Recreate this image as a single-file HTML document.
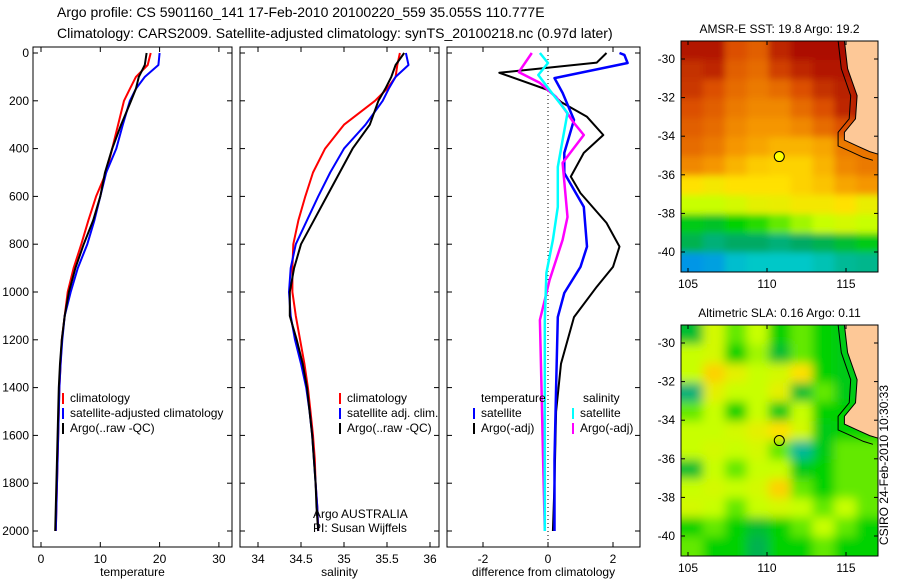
<!DOCTYPE html>
<html><head><meta charset="utf-8">
<style>
html,body{margin:0;padding:0;background:#fff;}
svg{display:block;font-family:"Liberation Sans",sans-serif;}
</style></head>
<body>
<svg id="fig" width="900" height="580" viewBox="0 0 900 580">
<text x="57" y="17" font-size="14">Argo profile: CS 5901160_141 17-Feb-2010 20100220_559 35.055S 110.777E</text>
<text x="57" y="38" font-size="14">Climatology: CARS2009. Satellite-adjusted climatology: synTS_20100218.nc (0.97d later)</text>
<text x="888" y="465" font-size="12" transform="rotate(-90 888 465)" text-anchor="middle">CSIRO 24-Feb-2010 10:30:33</text>
<g id="g"></g>
</svg>
<script>
// ---- data ----
const depthsT = [0,50,100,150,200,300,400,500,600,700,800,900,1000,1100,1200,1300,1400,1500,1600,1700,1800,1900,2000];
const tempClim = [18.5,18,16,15,14,13,12,11,9.3,8,6.8,5.5,4.5,4,3.5,3.3,3.1,3,2.9,2.8,2.7,2.6,2.5];
const tempSat  = [20,19.8,17.5,16,15,13.8,12.7,11,10,9,7.8,6.2,5,4,3.6,3.3,3.1,3,2.9,2.8,2.7,2.6,2.5];
const tempArgo = [17.8,17.5,16.5,16,15.2,13.5,12,10.8,10,8.8,7.2,5.8,4.7,4,3.5,3.2,3,2.9,2.8,2.7,2.6,2.5,2.4];
const salClim = [35.65,35.62,35.6,35.5,35.36,35.0,34.78,34.64,34.55,34.47,34.41,34.4,34.4,34.44,34.49,34.54,34.58,34.61,34.64,34.66,34.67,34.69,34.7];
const salSat  = [35.72,35.75,35.6,35.52,35.45,35.25,35.0,34.84,34.7,34.57,34.44,34.38,34.36,34.38,34.43,34.5,34.56,34.6,34.63,34.65,34.67,34.69,34.7];
const salArgo = [35.7,35.6,35.55,35.48,35.4,35.3,35.1,34.95,34.8,34.65,34.5,34.42,34.37,34.37,34.45,34.52,34.57,34.6,34.63,34.65,34.67,34.68,34.7];
const dDepthTA = [0,40,83,155,205,267,343,418,517,586,711,810,895,978,1105,1300,1500,1800,2000];
const diffTArgo = [1.8,1.5,-1.5,0,0.4,1.2,1.7,1.1,0.7,1.0,1.8,2.2,2.0,1.5,0.8,0.4,0.25,0.2,0.15];
const dDepthTS = [0,8,42,105,167,280,418,502,644,810,895,1004,1105,1400,1700,2000];
const diffTSat = [2.2,2.35,2.45,0.2,0.45,0.8,0.5,0.5,1.1,1.2,1.0,0.5,0.3,0.25,0.2,0.2];
const dDepthSA = [0,80,125,184,293,343,460,686,782,950,1117,1400,1700,2000];
const diffSArgo = [-0.5,-0.9,-0.25,0.25,0.8,1.1,0.45,0.6,0.45,0.05,-0.25,-0.2,-0.15,-0.1];
const dDepthSS = [0,42,92,155,251,364,477,644,782,920,1117,1400,1700,2000];
const diffSSat = [-0.25,0,-0.3,0.05,0.6,0.45,0.3,0.3,0.15,-0.05,-0.1,-0.1,-0.1,-0.1];
const depthTicks = [0,200,400,600,800,1000,1200,1400,1600,1800,2000];
const tempTicks = [0,10,20,30];
const salTicks = [34,34.5,35,35.5,36];
const salTickLabels = ["34","34.5","35","35.5","36"];
const diffTicks = [-2,0,2];
const sstGrid = [
[.97,.97,.9,.88,.95,.98,.98,.98,.98],
[.94,.95,.88,.86,.92,.95,.97,.97,.98],
[.93,.9,.86,.84,.86,.9,.94,.96,.98],
[.9,.88,.84,.82,.82,.86,.9,.95,.97],
[.88,.86,.82,.8,.8,.82,.86,.9,.92],
[.86,.84,.8,.78,.76,.76,.78,.84,.85],
[.82,.8,.76,.73,.72,.72,.76,.82,.84],
[.7,.68,.7,.7,.7,.72,.74,.78,.8],
[.6,.6,.62,.65,.66,.68,.68,.7,.66],
[.48,.46,.5,.52,.55,.58,.6,.62,.6],
[.42,.38,.4,.4,.38,.4,.42,.45,.48],
[.2,.22,.28,.3,.3,.3,.32,.35,.36]];
const slaGrid = [
[.45,.62,.55,.6,.5,.55,.5,.48,.48],
[.6,.62,.5,.58,.45,.55,.5,.48,.48],
[.6,.72,.65,.6,.62,.7,.5,.48,.48],
[.38,.65,.6,.6,.65,.45,.55,.48,.48],
[.55,.6,.5,.6,.48,.6,.5,.5,.5],
[.6,.6,.62,.65,.7,.62,.48,.5,.5],
[.6,.62,.6,.62,.55,.35,.48,.55,.55],
[.45,.6,.55,.6,.6,.48,.5,.55,.55],
[.6,.62,.6,.62,.72,.55,.5,.55,.55],
[.62,.6,.55,.6,.62,.6,.55,.6,.55],
[.5,.55,.5,.45,.5,.55,.6,.55,.5],
[.55,.5,.5,.42,.5,.5,.55,.5,.5]];
const lonTicks = [105,110,115];
const latTicks = [-30,-32,-34,-36,-38,-40];
const coastLon = [114.9,115.1,115.7,115.6,114.9,114.9,115.7,116.5,117.1,117.1];
const coastLat = [-29.05,-30.5,-31.9,-33.1,-33.8,-34.2,-34.5,-34.8,-34.95,-29.05];
const argoPos = [110.777,-35.055];

// ---- helpers ----
const NS="http://www.w3.org/2000/svg";
const G=document.getElementById('g');
function mk(tag,attrs,parent){const e=document.createElementNS(NS,tag);for(const k in attrs)e.setAttribute(k,attrs[k]);(parent||G).appendChild(e);return e;}
function txt(x,y,s,size,anchor,parent){const t=mk('text',{x:x,y:y,'font-size':size||12,'text-anchor':anchor||'start'},parent);t.textContent=s;return t;}
const yD=d=>53+0.239*d;
const plotTop=47,plotBot=547;
function panel(name,x0,x1,xs,ticks,labels,xlabel,showY){
  const g=mk('g',{});
  
  
  const r=mk('rect',{x:x0,y:plotTop,width:x1-x0,height:plotBot-plotTop,fill:'none',stroke:'#000','stroke-width':1},g);
  
  
  ticks.forEach((t,i)=>{const x=xs(t);
    mk('line',{x1:x,x2:x,y1:plotBot,y2:plotBot-5,stroke:'#000'},g);
    mk('line',{x1:x,x2:x,y1:plotTop,y2:plotTop+5,stroke:'#000'},g);
    const l=txt(x,563,labels[i],12,'middle',g);
    
    });
  depthTicks.forEach(d=>{const y=yD(d);
    mk('line',{x1:x0,x2:x0+5,y1:y,y2:y,stroke:'#000'},g);
    mk('line',{x1:x1,x2:x1-5,y1:y,y2:y,stroke:'#000'},g);
    if(showY){const l=txt(x0-4,y+4,String(d),12,'end',g);
      
      }});
  const xl=txt((x0+x1)/2,576,xlabel,12,'middle',g);
  
  
  return g;
}
function line(name,g,xs,vals,depths,color,w){
  const pts=vals.map((v,i)=>xs(v).toFixed(1)+','+yD(depths[i]).toFixed(1)).join(' ');
  const p=mk('polyline',{points:pts,fill:'none',stroke:color,'stroke-width':w||2,'stroke-linejoin':'round'},g);
  
  
}
function legend(g,x,y,color,label,name){
  mk('line',{x1:x,x2:x,y1:y-9,y2:y+2,stroke:color,'stroke-width':2},g);
  const t=txt(x+7,y,label,12,'start',g);
  
  
}
// panel 1
const xT=t=>41+5.93*t;
const p1=panel('temperature-panel',33,232,xT,tempTicks,tempTicks.map(String),'temperature',true);
line('temp-climatology-line',p1,xT,tempClim,depthsT,'#f00',2);
line('temp-satellite-line',p1,xT,tempSat,depthsT,'#00f',2);
line('temp-argo-line',p1,xT,tempArgo,depthsT,'#000',2);
legend(p1,63,402,'#f00','climatology','legend-climatology');
legend(p1,63,417,'#00f','satellite-adjusted climatology','legend-satellite-adjusted');
legend(p1,63,432,'#000','Argo(..raw -QC)','legend-argo-raw');
// panel 2
const xS=s=>258+86*(s-34);
const p2=panel('salinity-panel',240,439,xS,salTicks,salTickLabels,'salinity',false);
line('sal-climatology-line',p2,xS,salClim,depthsT,'#f00',2);
line('sal-satellite-line',p2,xS,salSat,depthsT,'#00f',2);
line('sal-argo-line',p2,xS,salArgo,depthsT,'#000',2);
legend(p2,340,402,'#f00','climatology','legend-sal-climatology');
legend(p2,340,417,'#00f','satellite adj. clim.','legend-sal-satellite');
legend(p2,340,432,'#000','Argo(..raw -QC)','legend-sal-argo');
const a1=txt(313,518,'Argo AUSTRALIA',12,'start',p2);
const a2=txt(313,532,'PI: Susan Wijffels',12,'start',p2);
// panel 3
const xDf=d=>548+32.5*d;
const p3=panel('difference-panel',447,640,xDf,diffTicks,diffTicks.map(String),'difference from climatology',false);
mk('line',{x1:xDf(0),x2:xDf(0),y1:plotTop,y2:plotBot,stroke:'#000','stroke-dasharray':'1,3'},p3);
line('diff-temp-argo-line',p3,xDf,diffTArgo,dDepthTA,'#000',2);
line('diff-temp-satellite-line',p3,xDf,diffTSat,dDepthTS,'#00f',2.5);
line('diff-sal-argo-line',p3,xDf,diffSArgo,dDepthSA,'#f0f',2.5);
line('diff-sal-satellite-line',p3,xDf,diffSSat,dDepthSS,'#0ff',2.5);
const h1=txt(481,402,'temperature',12,'start',p3);
const h2=txt(583,402,'salinity',12,'start',p3);
legend(p3,474,417,'#00f','satellite','legend-diff-temp-satellite');
legend(p3,474,432,'#000','Argo(-adj)','legend-diff-temp-argo');
legend(p3,573,417,'#0ff','satellite','legend-diff-sal-satellite');
legend(p3,573,432,'#f0f','Argo(-adj)','legend-diff-sal-argo');
// maps
const cmapStops=[[0,[0,60,200]],[0.2,[0,150,230]],[0.3,[0,200,200]],[0.4,[0,170,100]],[0.5,[0,210,0]],[0.6,[200,255,0]],[0.7,[255,225,0]],[0.8,[245,150,0]],[0.9,[220,80,0]],[1,[160,0,0]]];
function cmap(v){v=Math.max(0,Math.min(1,v));
  for(let i=1;i<cmapStops.length;i++){const a=cmapStops[i-1],b=cmapStops[i];
    if(v<=b[0]){const t=(v-a[0])/(b[0]-a[0]);
      return 'rgb('+a[1].map((c,k)=>Math.round(c+(b[1][k]-c)*t)).join(',')+')';}}
  return 'rgb(160,0,0)';}
const defs=mk('defs',{});
const f=mk('filter',{id:'blur'},defs);mk('feGaussianBlur',{stdDeviation:5},f);
const f2=mk('filter',{id:'blur2'},defs);mk('feGaussianBlur',{stdDeviation:3.5},f2);
function map(name,title,y0,grid,isSla){
  const x0=681,x1=878,y1=y0+231;
  const lx=l=>688+15.8*(l-105);
  const ly=a=>(y0+18)+19.3*(-30-a);
  const g=mk('g',{});
  
  
  const cp='clip-'+name;
  const cpEl=mk('clipPath',{id:cp},defs);mk('rect',{x:x0,y:y0,width:x1-x0,height:y1-y0},cpEl);
  const inner=mk('g',{'clip-path':'url(#'+cp+')'},g);
  const cells=mk('g',{filter:isSla?'url(#blur)':'url(#blur2)'},inner);
  const lon0=104.56,lon1=117.03,lat0=-29.06,lat1=-41.03;
  const nc=grid[0].length,nr=grid.length;
  grid.forEach((row,ri)=>row.forEach((v,ci)=>{
    const la=lon0+(lon1-lon0)*ci/nc, lb=lon0+(lon1-lon0)*(ci+1)/nc;
    const ta=lat0+(lat1-lat0)*ri/nr, tb=lat0+(lat1-lat0)*(ri+1)/nr;
    const ex=(ci==0||ci==nc-1)?10:0, ey=(ri==0||ri==nr-1)?10:0;
    const r=mk('rect',{x:lx(la)-(ci==0?ex:0),y:ly(ta)-(ri==0?ey:0),width:lx(lb)-lx(la)+ex+0.5,height:ly(tb)-ly(ta)+ey+0.5,fill:cmap(v)},cells);
    
    
  }));
  const land=coastLon.map((l,i)=>lx(l).toFixed(1)+','+ly(coastLat[i]).toFixed(1)).join(' ');
  const lp=mk('polygon',{points:land,fill:'#fdc897',stroke:'#000','stroke-width':1},inner);
  
  
  const shelf=coastLon.slice(0,9).map((l,i)=>lx(l-0.4).toFixed(1)+','+ly(coastLat[i]-(i>4?0.3:0)).toFixed(1)).join(' ');
  mk('polyline',{points:shelf,fill:'none',stroke:'#000','stroke-width':1},inner);
  mk('rect',{x:x0,y:y0,width:x1-x0,height:y1-y0,fill:'none',stroke:'#000'},g);
  lonTicks.forEach(l=>{const x=lx(l);mk('line',{x1:x,x2:x,y1:y1,y2:y1-4,stroke:'#000'},g);mk('line',{x1:x,x2:x,y1:y0,y2:y0+4,stroke:'#000'},g);
    const t=txt(x,y1+16,String(l),12,'middle',g);});
  latTicks.forEach(a=>{const y=ly(a);mk('line',{x1:x0,x2:x0+4,y1:y,y2:y,stroke:'#000'},g);mk('line',{x1:x1,x2:x1-4,y1:y,y2:y,stroke:'#000'},g);
    const t=txt(x0-6,y+4,String(a),12,'end',g);});
  const c=mk('circle',{cx:lx(argoPos[0]),cy:ly(argoPos[1]),r:5,fill:isSla?'none':'#ff0',stroke:'#000'},g);
  
  
  const tt=txt((x0+x1)/2,y0-8,title,12,'middle',g);
  
  
}
map('sst-map','AMSR-E SST: 19.8 Argo: 19.2',41,sstGrid,false);
map('sla-map','Altimetric SLA: 0.16 Argo: 0.11',325,slaGrid,true);
</script>
</body></html>
